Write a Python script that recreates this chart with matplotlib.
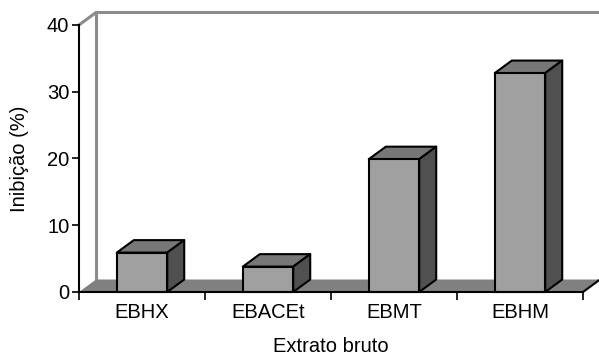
import matplotlib
matplotlib.use('Agg')
import matplotlib.pyplot as plt
from matplotlib.patches import Polygon

plt.rcParams['font.family'] = ['Liberation Sans', 'DejaVu Sans']

categories = ['EBHX', 'EBACEt', 'EBMT', 'EBHM']
values = [5.9, 3.8, 19.9, 32.8]
y_ticks = [0, 10, 20, 30, 40]

# pseudo-3D depth offset, in data units (x: categories, y: percent)
DX = 0.135
DY = 1.87
BAR_W = 0.4
FS = 14.5

fig = plt.figure(figsize=(5.99, 3.6), dpi=100)
ax = fig.add_axes([0.1319, 0.1889, 0.8414, 0.7417])
ax.set_xlim(-0.5, len(categories) - 0.5)
ax.set_ylim(0, 40)

x0, x1 = -0.5, len(categories) - 0.5

# back wall frame
wall_col = '#8c8c8c'
ax.plot([x0, x0 + DX, x1 + DX], [40, 40 + DY, 40 + DY], color=wall_col, lw=2.2,
        clip_on=False, zorder=1, solid_joinstyle='miter')
ax.plot([x0 + DX, x0 + DX], [DY, 40 + DY], color=wall_col, lw=2.2,
        clip_on=False, zorder=1)
ax.plot([x1 + DX, x1 + DX], [DY, 40 + DY], color='#c0c0c0', lw=1,
        clip_on=False, zorder=1)

# floor
floor = Polygon([(x0, 0), (x1, 0), (x1 + DX, DY), (x0 + DX, DY)], closed=True,
                facecolor='#808080', edgecolor='none', clip_on=False, zorder=2)
ax.add_patch(floor)
ax.plot([x1, x1 + DX], [0, DY], color='black', lw=1.5, clip_on=False, zorder=2)

# bars: front face, top and right side
for i, v in enumerate(values):
    l, r = i - BAR_W / 2, i + BAR_W / 2
    top = Polygon([(l, v), (r, v), (r + DX, v + DY), (l + DX, v + DY)],
                  closed=True, facecolor='#777777', edgecolor='black', lw=1.5,
                  clip_on=False, zorder=3, joinstyle='round')
    side = Polygon([(r, 0), (r + DX, DY), (r + DX, v + DY), (r, v)],
                   closed=True, facecolor='#505050', edgecolor='black', lw=1.5,
                   clip_on=False, zorder=3, joinstyle='round')
    ax.add_patch(top)
    ax.add_patch(side)
ax.bar(range(len(categories)), values, width=BAR_W, color='#a0a0a0',
       edgecolor='black', linewidth=1.5, zorder=4, clip_on=False)

for s in ['top', 'right']:
    ax.spines[s].set_visible(False)
for s in ['left', 'bottom']:
    ax.spines[s].set_color('black')
    ax.spines[s].set_linewidth(1.5)
    ax.spines[s].set_zorder(5)

ax.set_yticks(y_ticks)
ax.set_yticklabels([str(t) for t in y_ticks], fontsize=FS)
ax.tick_params(axis='y', length=5, width=1.2, pad=2)

ax.set_xticks([i - 0.5 for i in range(len(categories) + 1)])
ax.set_xticklabels([])
ax.set_xticks(range(len(categories)), minor=True)
ax.set_xticklabels(categories, minor=True, fontsize=FS)
ax.tick_params(axis='x', which='major', length=6, width=1.2)
ax.tick_params(axis='x', which='minor', length=0, pad=8)

ax.set_xlabel('Extrato bruto', fontsize=FS)
ax.xaxis.set_label_coords(0.5, -0.17)
ax.set_ylabel('Inibição (%)', fontsize=FS)
ax.yaxis.set_label_coords(-0.1, 0.5)

ax.patch.set_visible(False)
fig.savefig('out.png', dpi=100)
